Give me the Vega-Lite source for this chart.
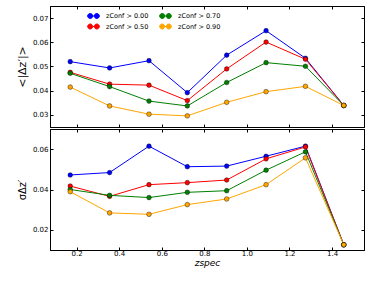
{
  "$schema": "https://vega.github.io/schema/vega-lite/v6.json",
  "padding": {"left": 15, "top": 5, "right": 5, "bottom": 5},
  "background": "white",
  "config": {
    "font": "DejaVu Sans",
    "view": {"stroke": "black", "strokeWidth": 1},
    "axis": {
      "grid": false, "domainColor": "black", "domainWidth": 1, "tickColor": "black",
      "tickSize": -3, "labelFont": "DejaVu Sans", "labelFontSize": 7, "labelColor": "black",
      "titleFont": "DejaVu Sans", "titleColor": "black", "titleFontWeight": "normal"
    },
    "legend": {"labelFont": "DejaVu Sans", "labelColor": "black"}
  },
  "datasets": {
    "d": [
      {"z": 0.17, "c": "zConf > 0.00", "m": 0.0520, "s": 0.0472},
      {"z": 0.355, "c": "zConf > 0.00", "m": 0.0494, "s": 0.0484},
      {"z": 0.54, "c": "zConf > 0.00", "m": 0.0524, "s": 0.0615},
      {"z": 0.72, "c": "zConf > 0.00", "m": 0.0392, "s": 0.0513},
      {"z": 0.905, "c": "zConf > 0.00", "m": 0.0547, "s": 0.0516},
      {"z": 1.09, "c": "zConf > 0.00", "m": 0.0648, "s": 0.0565},
      {"z": 1.275, "c": "zConf > 0.00", "m": 0.0534, "s": 0.0615},
      {"z": 1.455, "c": "zConf > 0.00", "m": 0.0339, "s": 0.0126},
      {"z": 0.17, "c": "zConf > 0.50", "m": 0.0476, "s": 0.0417},
      {"z": 0.355, "c": "zConf > 0.50", "m": 0.0427, "s": 0.0366},
      {"z": 0.54, "c": "zConf > 0.50", "m": 0.0423, "s": 0.0424},
      {"z": 0.72, "c": "zConf > 0.50", "m": 0.0359, "s": 0.0434},
      {"z": 0.905, "c": "zConf > 0.50", "m": 0.0490, "s": 0.0447},
      {"z": 1.09, "c": "zConf > 0.50", "m": 0.0601, "s": 0.0552},
      {"z": 1.275, "c": "zConf > 0.50", "m": 0.0530, "s": 0.0611},
      {"z": 1.455, "c": "zConf > 0.50", "m": 0.0339, "s": 0.0126},
      {"z": 0.17, "c": "zConf > 0.70", "m": 0.0472, "s": 0.0400},
      {"z": 0.355, "c": "zConf > 0.70", "m": 0.0417, "s": 0.0371},
      {"z": 0.54, "c": "zConf > 0.70", "m": 0.0357, "s": 0.0360},
      {"z": 0.72, "c": "zConf > 0.70", "m": 0.0337, "s": 0.0386},
      {"z": 0.905, "c": "zConf > 0.70", "m": 0.0434, "s": 0.0394},
      {"z": 1.09, "c": "zConf > 0.70", "m": 0.0516, "s": 0.0496},
      {"z": 1.275, "c": "zConf > 0.70", "m": 0.0501, "s": 0.0587},
      {"z": 1.455, "c": "zConf > 0.70", "m": 0.0339, "s": 0.0126},
      {"z": 0.17, "c": "zConf > 0.90", "m": 0.0415, "s": 0.0389},
      {"z": 0.355, "c": "zConf > 0.90", "m": 0.0337, "s": 0.0284},
      {"z": 0.54, "c": "zConf > 0.90", "m": 0.0303, "s": 0.0277},
      {"z": 0.72, "c": "zConf > 0.90", "m": 0.0296, "s": 0.0325},
      {"z": 0.905, "c": "zConf > 0.90", "m": 0.0352, "s": 0.0353},
      {"z": 1.09, "c": "zConf > 0.90", "m": 0.0396, "s": 0.0424},
      {"z": 1.275, "c": "zConf > 0.90", "m": 0.0418, "s": 0.0557},
      {"z": 1.455, "c": "zConf > 0.90", "m": 0.0339, "s": 0.0126}
    ]
  },
  "spacing": 0,
  "vconcat": [
    {
      "width": 314, "height": 121,
      "data": {"name": "d"},
      "layer": [
        {
          "mark": {"type": "line", "strokeWidth": 1},
          "encoding": {
            "x": {"field": "z", "type": "quantitative", "scale": {"domain": [0.075, 1.55], "nice": false, "zero": false},
                  "axis": {"orient": "bottom", "values": [0.2, 0.4, 0.6, 0.8, 1.0, 1.2, 1.4], "labels": false, "title": null}},
            "y": {"field": "m", "type": "quantitative", "scale": {"domain": [0.025, 0.075], "nice": false, "zero": false},
                  "axis": {"orient": "left", "values": [0.03, 0.04, 0.05, 0.06, 0.07], "format": ".2f", "title": "<|Δz′|>", "titleFontSize": 11, "titlePadding": 5, "labelPadding": 5}},
            "color": {"field": "c", "type": "nominal",
                      "scale": {"domain": ["zConf > 0.00", "zConf > 0.50", "zConf > 0.70", "zConf > 0.90"], "range": ["#0000ff", "#ff0000", "#008000", "#ffa500"]},
                      "legend": {"orient": "none", "legendX": 39, "legendY": 5, "columns": 2, "title": null,
                                 "symbolSize": 64, "symbolStrokeWidth": 1, "labelFontSize": 6.5, "labelOffset": 8, "columnPadding": 8, "rowPadding": 0,
                                 "symbolType": "M-1.45,0L1.45,0M-1.45,0A0.625,0.625,0,1,0,-0.2,0A0.625,0.625,0,1,0,-1.45,0ZM0.2,0A0.625,0.625,0,1,0,1.45,0A0.625,0.625,0,1,0,0.2,0Z",
                                 "encode": {"symbols": {"update": {
                                   "shape": {"value": "M-1.45,0L1.45,0M-1.45,0A0.625,0.625,0,1,0,-0.2,0A0.625,0.625,0,1,0,-1.45,0ZM0.2,0A0.625,0.625,0,1,0,1.45,0A0.625,0.625,0,1,0,0.2,0Z"},
                                   "stroke": {"scale": "color", "field": "value"}, "fill": {"scale": "color", "field": "value"}, "opacity": {"value": 1}, "strokeWidth": {"value": 1}}}}}}
          }
        },
        {
          "mark": {"type": "point", "filled": true, "size": 22, "opacity": 1, "stroke": "black", "strokeWidth": 0.4},
          "encoding": {
            "x": {"field": "z", "type": "quantitative", "axis": {"orient": "top", "values": [0.2, 0.4, 0.6, 0.8, 1.0, 1.2, 1.4], "labels": false, "title": null}},
            "y": {"field": "m", "type": "quantitative", "axis": {"orient": "right", "values": [0.03, 0.04, 0.05, 0.06, 0.07], "labels": false, "title": null}},
            "color": {"field": "c", "type": "nominal",
                      "legend": {"orient": "none", "legendX": 39, "legendY": 5, "columns": 2, "title": null,
                                 "symbolSize": 64, "symbolStrokeWidth": 1, "labelFontSize": 6.5, "labelOffset": 8, "columnPadding": 8, "rowPadding": 0,
                                 "symbolType": "M-1.45,0L1.45,0M-1.45,0A0.625,0.625,0,1,0,-0.2,0A0.625,0.625,0,1,0,-1.45,0ZM0.2,0A0.625,0.625,0,1,0,1.45,0A0.625,0.625,0,1,0,0.2,0Z",
                                 "encode": {"symbols": {"update": {
                                   "shape": {"value": "M-1.45,0L1.45,0M-1.45,0A0.625,0.625,0,1,0,-0.2,0A0.625,0.625,0,1,0,-1.45,0ZM0.2,0A0.625,0.625,0,1,0,1.45,0A0.625,0.625,0,1,0,0.2,0Z"},
                                   "stroke": {"scale": "color", "field": "value"}, "fill": {"scale": "color", "field": "value"}, "opacity": {"value": 1}, "strokeWidth": {"value": 1}}}}}}
          }
        }
      ],
      "resolve": {"axis": {"x": "independent", "y": "independent"}}
    },
    {
      "width": 314, "height": 121,
      "data": {"name": "d"},
      "layer": [
        {
          "mark": {"type": "line", "strokeWidth": 1},
          "encoding": {
            "x": {"field": "z", "type": "quantitative", "scale": {"domain": [0.075, 1.55], "nice": false, "zero": false},
                  "axis": {"orient": "bottom", "values": [0.2, 0.4, 0.6, 0.8, 1.0, 1.2, 1.4], "format": ".1f", "title": "zspec", "titleFontSize": 9, "titleFontStyle": "italic", "labelPadding": 2, "titlePadding": 2}},
            "y": {"field": "s", "type": "quantitative", "scale": {"domain": [0.01, 0.07], "nice": false, "zero": false},
                  "axis": {"orient": "left", "values": [0.02, 0.04, 0.06], "format": ".2f", "title": "σΔz′", "titleFontSize": 10, "titlePadding": 5, "labelPadding": 5}},
            "color": {"field": "c", "type": "nominal"}
          }
        },
        {
          "mark": {"type": "point", "filled": true, "size": 22, "opacity": 1, "stroke": "black", "strokeWidth": 0.4},
          "encoding": {
            "x": {"field": "z", "type": "quantitative", "axis": {"orient": "top", "values": [0.2, 0.4, 0.6, 0.8, 1.0, 1.2, 1.4], "labels": false, "title": null}},
            "y": {"field": "s", "type": "quantitative", "axis": {"orient": "right", "values": [0.02, 0.04, 0.06], "labels": false, "title": null}},
            "color": {"field": "c", "type": "nominal"}
          }
        }
      ],
      "resolve": {"axis": {"x": "independent", "y": "independent"}}
    }
  ]
}
